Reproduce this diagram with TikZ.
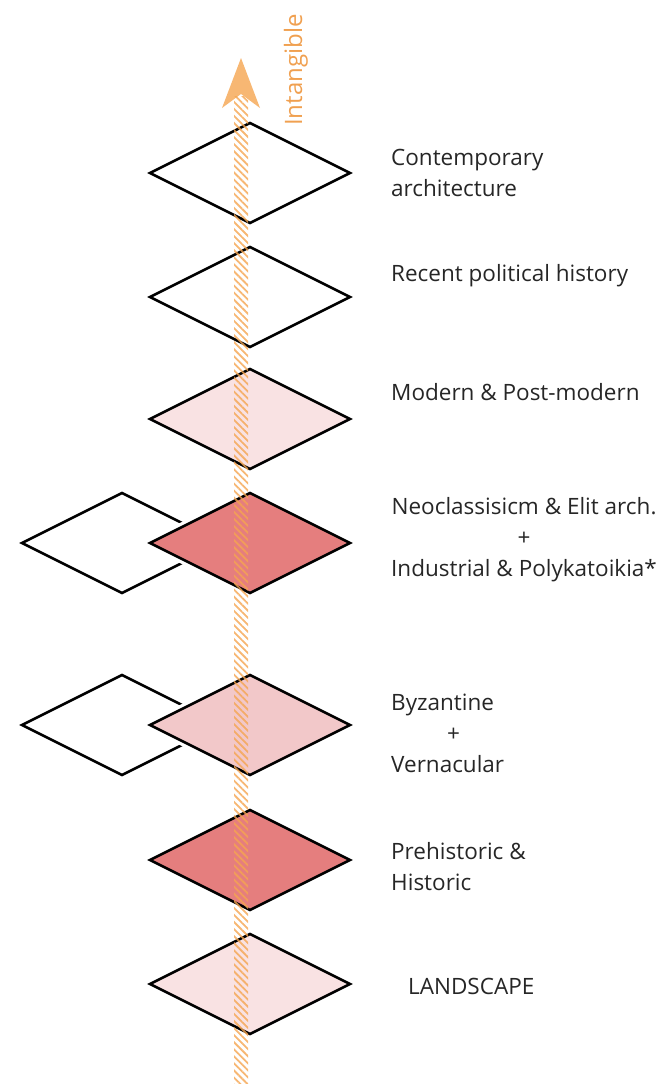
\documentclass[tikz,border=0pt]{standalone}
\usepackage{fontspec}
\setmainfont{Open Sans}
\usetikzlibrary{shapes.geometric,patterns.meta}
\definecolor{txt}{HTML}{262626}
\definecolor{arrowc}{HTML}{F5A550}
\definecolor{labc}{HTML}{F0A050}
\definecolor{pinkA}{HTML}{F9E2E3}
\definecolor{pinkB}{HTML}{F2C8C9}
\definecolor{redA}{HTML}{E57E7E}
\begin{document}
\begin{tikzpicture}[x=1pt,y=-1pt,
  dia/.style={diamond, draw=black, line width=2.5pt, minimum width=200pt, minimum height=100pt, inner sep=0pt, outer sep=0pt},
  gapdia/.style={dia, preaction={draw=white, line width=9pt}},
  lab/.style={anchor=west, text=txt, font=\fontsize{22.5}{31}\selectfont, align=left, inner sep=0pt}]
\useasboundingbox (0,0) rectangle (662,1084);
% side diamonds
\node[dia] (s1) at (122,543) {};
\node[dia] (s2) at (122,725) {};
% main diamonds
\node[dia] (d1) at (250,173) {};
\node[dia] (d2) at (250,297) {};
\node[dia, fill=pinkA] (d3) at (250,419) {};
\node[gapdia, fill=redA] (d4) at (250,543) {};
\node[gapdia, fill=pinkB] (d5) at (250,725) {};
\node[dia, fill=redA] (d6) at (250,860) {};
\node[dia, fill=pinkA] (d7) at (250,984) {};
% arrow
\coordinate (abot) at (241,1084);
\coordinate (atip) at (241,58);
\begin{scope}[opacity=0.8]
\fill[pattern={Lines[angle=-45,distance=5pt,line width=1.8pt]}, pattern color=arrowc] (234,1084) rectangle (248,96);
\fill[arrowc] (atip) -- (260,108) -- (241,94) -- (222,108) -- cycle;
\end{scope}
\node[rotate=90, anchor=west, text=labc, font=\fontsize{24}{28}\selectfont, inner sep=0pt] (intang) at (296,126) {Intangible};
% labels
\node[lab] (t1) at (391,173) {Contemporary\\architecture};
\node[lab] (t2) at (391,276) {Recent political history};
\node[lab] (t3) at (391,392) {Modern \& Post-modern};
\node[lab, align=center] (t4) at (391,540) {Neoclassisicm \& Elit arch.\\+\\Industrial \& Polykatoikia*};
\node[lab] (t5) at (391,733) {Byzantine\\\hspace*{56pt}+\\Vernacular};
\node[lab] (t6) at (391,867) {Prehistoric \&\\Historic};
\node[lab] (t7) at (408,986) {LANDSCAPE};
\end{tikzpicture}
\end{document}
